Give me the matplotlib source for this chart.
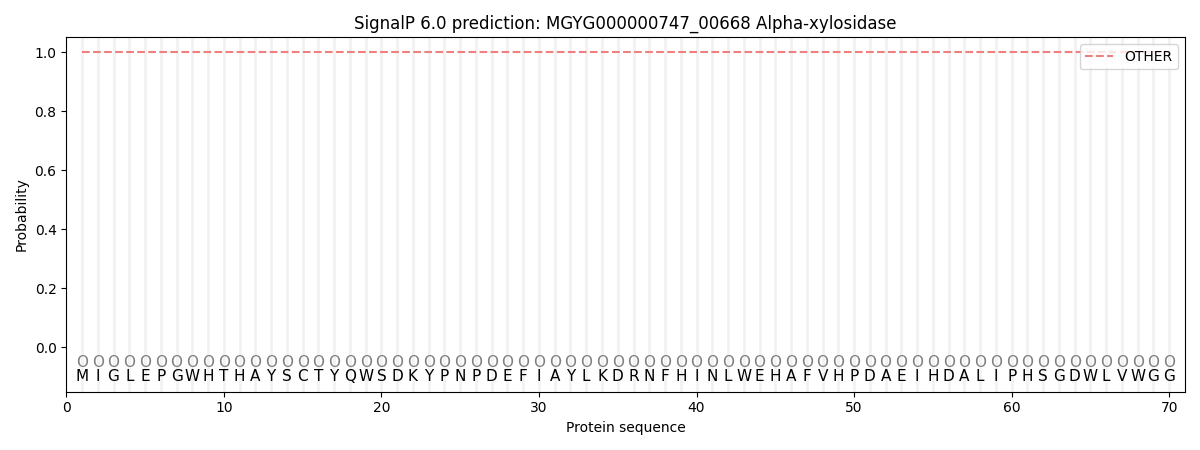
import matplotlib
matplotlib.use("Agg")
import matplotlib.pyplot as plt

sequence = "MIGLEPGWHTHAYSCTYQWSDKYPNPDEFIAYLKDRNFHINLWEHAFVHPDAEIHDALIPHSGDWLVWGG"
labels = ["O"] * len(sequence)
positions = list(range(1, len(sequence) + 1))
prob_other = [1.0] * len(sequence)

fig, ax = plt.subplots(figsize=(12, 4.5), dpi=100)

for p in positions:
    ax.axvline(p, color="#f2f2f2", linewidth=2, zorder=0)

ax.plot(positions, prob_other, linestyle="--", color="#f08080", label="OTHER")

for p, aa, lab in zip(positions, sequence, labels):
    ax.text(p, -0.05, lab, ha="center", va="center", fontsize=11, color="grey")
    ax.text(p, -0.10, aa, ha="center", va="center", fontsize=11)

ax.set_xlim(0, 71)
ax.set_ylim(-0.15, 1.05)
ax.set_xlabel("Protein sequence")
ax.set_ylabel("Probability")
ax.set_title("SignalP 6.0 prediction: MGYG000000747_00668 Alpha-xylosidase")
ax.legend(loc="upper right")

plt.tight_layout()
plt.savefig("out.png")
